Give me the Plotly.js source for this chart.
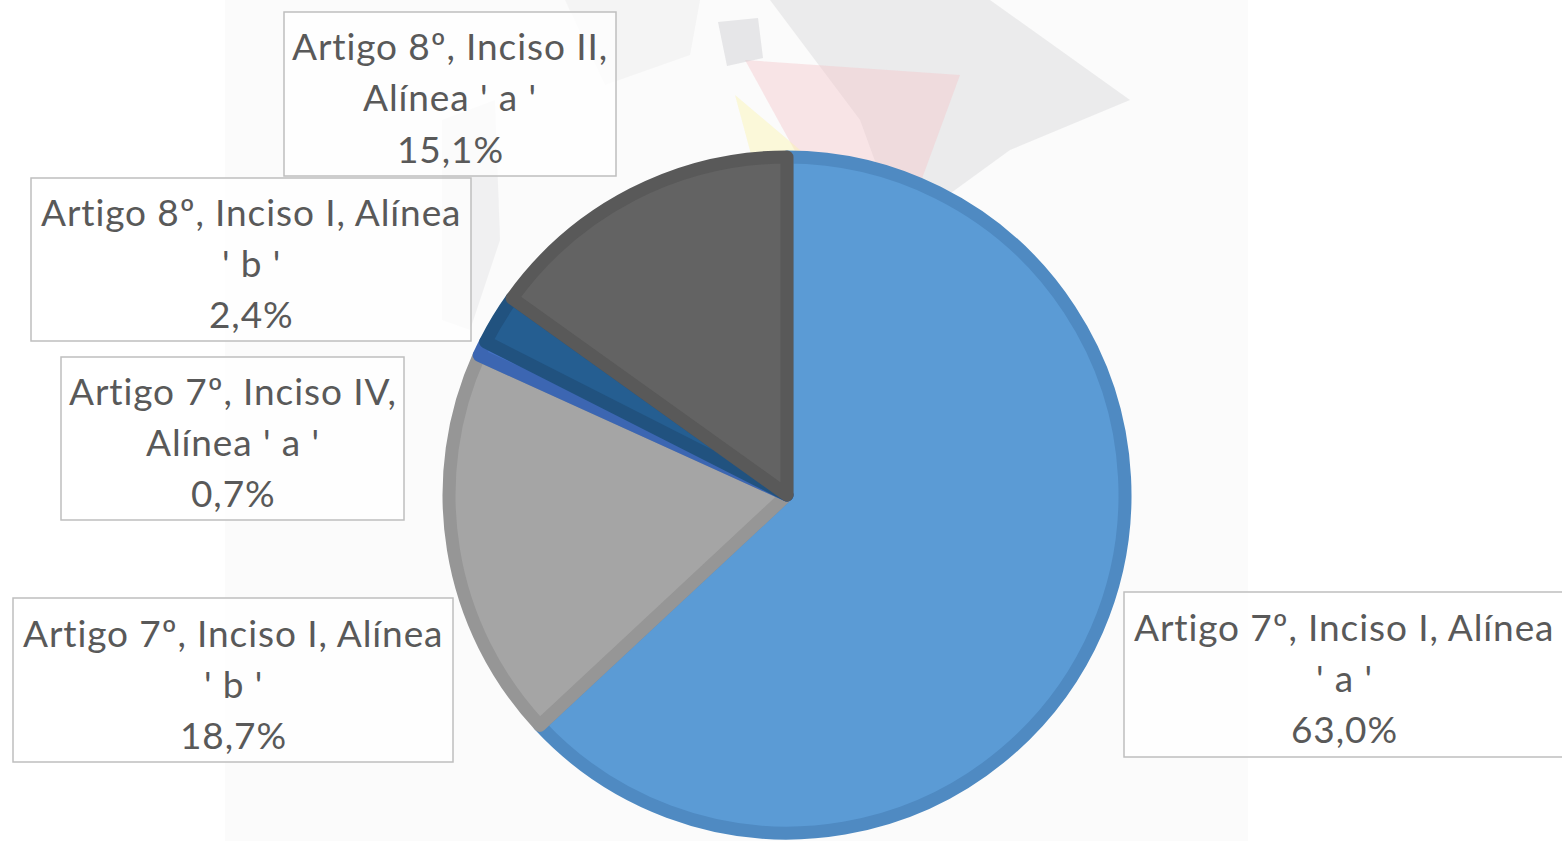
<!DOCTYPE html>
<html>
<head>
<meta charset="utf-8">
<script src="https://cdn.plot.ly/plotly-3.0.1.min.js"></script>
<style>
  html, body { margin: 0; padding: 0; background: #ffffff; }
  #chart { width: 1562px; height: 841px; }
  .annotation-text { letter-spacing: 0.9px; }
</style>
</head>
<body>
<div id="chart"></div>
<script>
// ---- data ----
const labels = [
  "Artigo 7º, Inciso I, Alínea ' a '",
  "Artigo 7º, Inciso I, Alínea ' b '",
  "Artigo 7º, Inciso IV, Alínea ' a '",
  "Artigo 8º, Inciso I, Alínea ' b '",
  "Artigo 8º, Inciso II, Alínea ' a '"
];
const values = [63.0, 18.7, 0.7, 2.4, 15.1];

// ---- style ----
const fillColors = ["#5B9BD5", "#A5A5A5", "#4472C4", "#255E91", "#636363"];
const lineColors = ["#4F8AC2", "#969696", "#3C66B2", "#21527F", "#595959"];

const W = 1562, H = 841;
const px = x => x / W;
const py = y => 1 - y / H;

// label boxes: [x0, y0, x1, y1] in pixels, and wrap width in characters
const boxes = [
  [1124, 592, 1575, 757],
  [13, 598, 453, 762],
  [61, 357, 404, 520],
  [31, 178, 471, 341],
  [284, 12, 616, 176]
];
const textCenters = [1344, 233, 233, 251, 450];
const wrapChars = [27, 27, 21, 27, 21];

function wrap(s, n) {
  const words = s.split(' ');
  const lines = [];
  let cur = '';
  words.forEach(w => {
    const cand = cur ? cur + ' ' + w : w;
    if (cand.length > n && cur) { lines.push(cur); cur = w; }
    else cur = cand;
  });
  if (cur) lines.push(cur);
  return lines;
}
const fmtPct = v => v.toFixed(1).replace('.', ',') + '%';

// pie geometry (pixels)
const cx = 787, cy = 495, R = 338;

const trace = {
  type: 'pie',
  labels: labels,
  values: values,
  sort: false,
  direction: 'clockwise',
  rotation: 0,
  textinfo: 'none',
  hoverinfo: 'label+percent',
  showlegend: false,
  marker: { colors: fillColors, line: { color: lineColors, width: 13 } },
  domain: { x: [px(cx - R), px(cx + R)], y: [py(cy + R), py(cy - R)] }
};

const shapes = [];
// faint background panel
shapes.push({ type: 'rect', xref: 'paper', yref: 'paper', layer: 'below',
  x0: px(225), x1: px(1248), y0: 0, y1: 1, fillcolor: '#FBFBFB', line: { width: 0 } });

// faint watermark shapes
function poly(pts, color, op) {
  const d = pts.map((p, i) => (i ? 'L' : 'M') + px(p[0]) + ',' + py(p[1])).join(' ') + ' Z';
  shapes.push({ type: 'path', xref: 'paper', yref: 'paper', layer: 'below', path: d,
    fillcolor: color, opacity: op, line: { width: 0 } });
}
poly([[770, 0], [990, 0], [1130, 100], [1010, 150], [900, 230], [860, 120]], '#D4D4D8', 0.4);
poly([[745, 60], [960, 75], [905, 225], [800, 160]], '#F6C4C8', 0.4);
poly([[735, 95], [800, 150], [825, 225], [762, 195]], '#FBF3B0', 0.45);
poly([[718, 22], [758, 18], [763, 58], [727, 66]], '#CDCDD1', 0.45);
poly([[442, 120], [495, 100], [500, 240], [470, 330], [442, 320]], '#D6D6DA', 0.3);
poly([[565, 0], [700, 0], [690, 55], [605, 85]], '#E4E4E6', 0.3);

const annotations = [];
boxes.forEach((b, i) => {
  shapes.push({ type: 'rect', xref: 'paper', yref: 'paper', layer: 'above',
    x0: px(b[0]), x1: px(b[2]), y0: py(b[3]), y1: py(b[1]),
    fillcolor: 'rgba(255,255,255,0.72)', line: { color: '#BFBFBF', width: 1.5 } });
  const lines = wrap(labels[i], wrapChars[i]).concat([fmtPct(values[i])]);
  const yc = (b[1] + b[3]) / 2 + 3;
  const step = 51;
  lines.forEach((t, j) => {
    annotations.push({
      xref: 'paper', yref: 'paper', x: px(textCenters[i]),
      y: py(yc + (j - (lines.length - 1) / 2) * step),
      xanchor: 'center', yanchor: 'middle', showarrow: false, text: t,
      font: { family: 'Lato, "Open Sans", sans-serif', size: 37, color: '#595959' }
    });
  });
});

const layout = {
  width: W, height: H,
  margin: { l: 0, r: 0, t: 0, b: 0 },
  paper_bgcolor: '#ffffff',
  plot_bgcolor: '#ffffff',
  shapes: shapes,
  annotations: annotations
};

Plotly.newPlot('chart', [trace], layout, { displayModeBar: false, staticPlot: true });
</script>
</body>
</html>
